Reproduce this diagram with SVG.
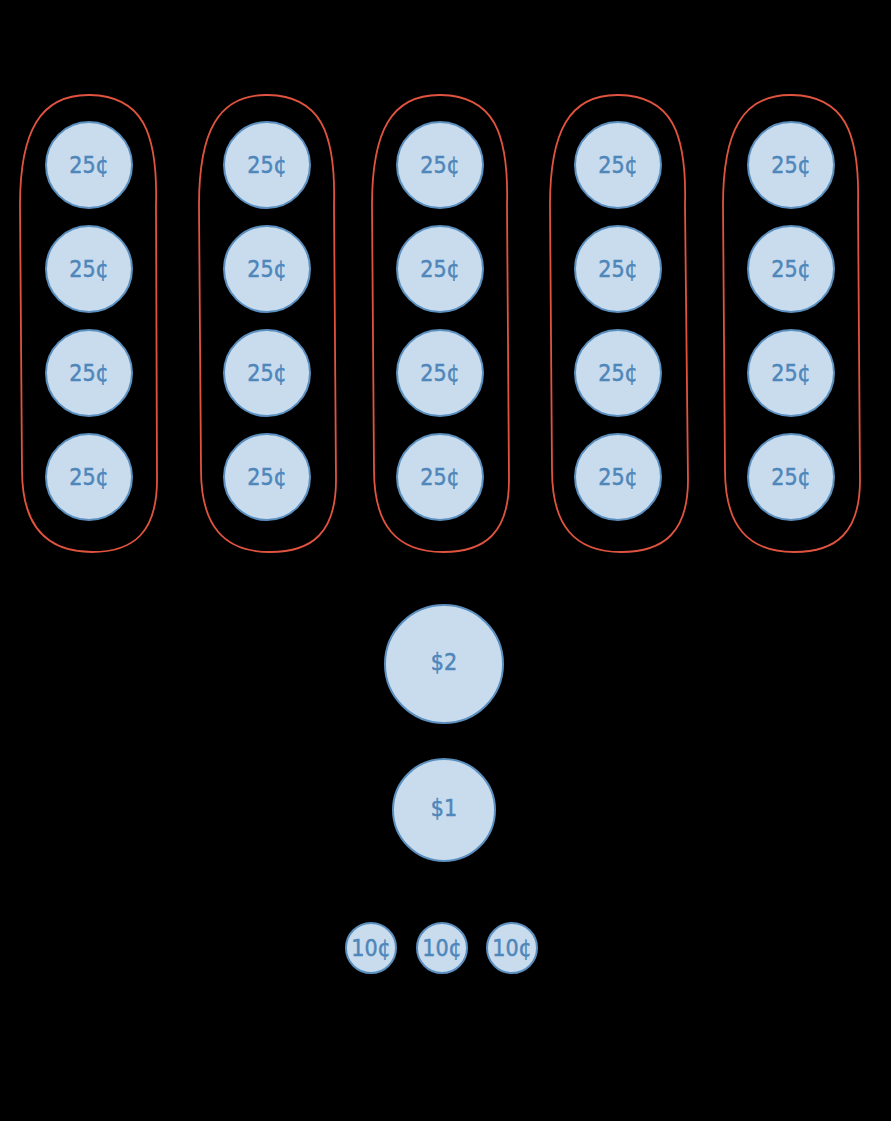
<svg xmlns="http://www.w3.org/2000/svg" width="891" height="1121" viewBox="0 0 891 1121">
<style>
.bg{fill:#000}
.grp{fill:none;stroke:#e0533f;stroke-width:1.8}
.coin{fill:#c9dcee;stroke:#5a8fbf;stroke-width:2}
.t{font-family:"Liberation Sans Narrow","DejaVu Sans Condensed","Liberation Sans",sans-serif;fill:#4f87ba;stroke:#4f87ba;stroke-width:0.5;text-anchor:middle;dominant-baseline:central}
.q{font-size:23px}
.d{font-size:23px}
</style>
<defs>
<g id="q">
<circle class="coin" r="43"/>
<text class="t q" y="0">25¢</text>
</g>
</defs>
<rect class="bg" width="891" height="1121"/>
<g id="groups">
<path id="group1" class="grp" d="M90 95 C142 96 158 132 156 205 L157 480 C157 532 134 552 92 552 C46 552 22 526 22 470 L20 205 C20 132 40 94 90 95 Z"/>
<path id="group2" class="grp" d="M268 95 C320 96 336 132 334 205 L336 480 C336 532 313 552 270 552 C224 552 201 526 201 470 L199 205 C199 132 218 94 268 95 Z"/>
<path id="group3" class="grp" d="M441 95 C493 96 509 132 507 205 L509 480 C509 532 486 552 443 552 C397 552 374 526 374 470 L372 205 C372 132 391 94 441 95 Z"/>
<path id="group4" class="grp" d="M619 95 C671 96 687 132 685 205 L688 480 C688 532 664 552 621 552 C575 552 552 526 552 470 L550 205 C550 132 569 94 619 95 Z"/>
<path id="group5" class="grp" d="M792 95 C844 96 860 132 858 205 L860 480 C860 532 837 552 794 552 C748 552 725 526 725 470 L723 205 C723 132 742 94 792 95 Z"/>
</g>
<g id="c1r1" transform="translate(89,165)"><use href="#q"/></g>
<g id="c1r2" transform="translate(89,269)"><use href="#q"/></g>
<g id="c1r3" transform="translate(89,373)"><use href="#q"/></g>
<g id="c1r4" transform="translate(89,477)"><use href="#q"/></g>
<g id="c2r1" transform="translate(267,165)"><use href="#q"/></g>
<g id="c2r2" transform="translate(267,269)"><use href="#q"/></g>
<g id="c2r3" transform="translate(267,373)"><use href="#q"/></g>
<g id="c2r4" transform="translate(267,477)"><use href="#q"/></g>
<g id="c3r1" transform="translate(440,165)"><use href="#q"/></g>
<g id="c3r2" transform="translate(440,269)"><use href="#q"/></g>
<g id="c3r3" transform="translate(440,373)"><use href="#q"/></g>
<g id="c3r4" transform="translate(440,477)"><use href="#q"/></g>
<g id="c4r1" transform="translate(618,165)"><use href="#q"/></g>
<g id="c4r2" transform="translate(618,269)"><use href="#q"/></g>
<g id="c4r3" transform="translate(618,373)"><use href="#q"/></g>
<g id="c4r4" transform="translate(618,477)"><use href="#q"/></g>
<g id="c5r1" transform="translate(791,165)"><use href="#q"/></g>
<g id="c5r2" transform="translate(791,269)"><use href="#q"/></g>
<g id="c5r3" transform="translate(791,373)"><use href="#q"/></g>
<g id="c5r4" transform="translate(791,477)"><use href="#q"/></g>
<g id="two" transform="translate(444,664)"><circle class="coin" r="59"/><text class="t d" y="-2">$2</text></g>
<g id="one" transform="translate(444,810)"><circle class="coin" r="51"/><text class="t d" y="-2">$1</text></g>
<g id="dime1" transform="translate(371,948)"><circle class="coin" r="25"/><text class="t q">10¢</text></g>
<g id="dime2" transform="translate(442,948)"><circle class="coin" r="25"/><text class="t q">10¢</text></g>
<g id="dime3" transform="translate(512,948)"><circle class="coin" r="25"/><text class="t q">10¢</text></g>
</svg>
